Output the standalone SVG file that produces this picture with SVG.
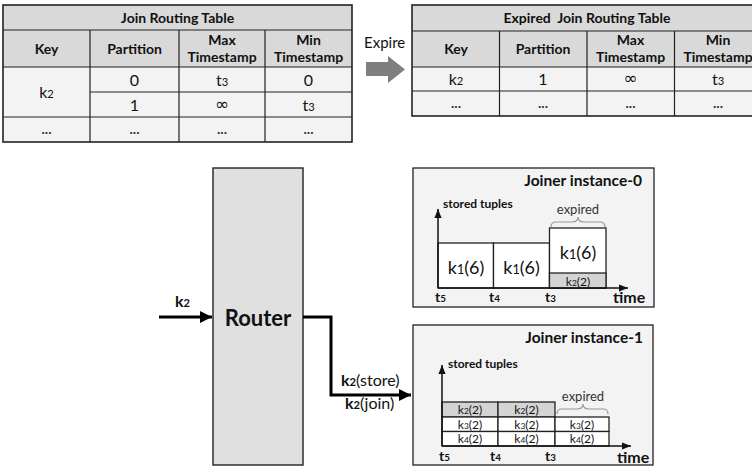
<svg xmlns="http://www.w3.org/2000/svg" width="752" height="467" viewBox="0 0 752 467">
<style>
text{font-family:Lato,"Liberation Sans",sans-serif;fill:#111}
.hd{font-weight:bold;font-size:14px;text-anchor:middle}
.cell{font-size:16px;text-anchor:middle}
.inf{font-family:"DejaVu Sans",sans-serif;font-size:17px;text-anchor:middle}
.dots{font-size:14px;font-weight:bold;text-anchor:middle;fill:#333}
.grid{stroke:#222;stroke-width:1.2;fill:none}
.outer{stroke:#222;stroke-width:1.6;fill:none}
.frame{fill:#f3f3f3;stroke:#222;stroke-width:1.3}
.bx{fill:#fff;stroke:#222;stroke-width:1.3}
.gb{fill:#d4d4d4;stroke:#222;stroke-width:1.3}
.ax{stroke:#111;stroke-width:1.5;fill:none}
.thick{stroke:#000;stroke-width:3;fill:none}
.brk{stroke:#999;stroke-width:1.2;fill:none}
.ttl{font-weight:bold;font-size:15.5px;text-anchor:end}
.st{font-weight:bold;font-size:12px}
.tl{font-weight:bold;font-size:14px}
.time{font-weight:bold;font-size:16px}
.k16{font-size:18px;text-anchor:middle}
.k13{font-size:13px;text-anchor:middle}
.k12{font-size:12px;text-anchor:middle}
.exp{font-size:13px;text-anchor:middle;fill:#333}
.sub{font-size:70%}
</style>
<defs>
<marker id="ah" viewBox="0 0 10 10" refX="10" refY="5" markerWidth="6" markerHeight="4" markerUnits="strokeWidth" orient="auto"><path d="M0,0L10,5L0,10z" fill="#000"/></marker>
<marker id="ax" viewBox="0 0 10 10" refX="10" refY="5" markerWidth="6" markerHeight="6" markerUnits="strokeWidth" orient="auto"><path d="M0,1L10,5L0,9z" fill="#111"/></marker>
</defs>

<g id="join-routing-table">
<rect x="3" y="5" width="349" height="25" fill="#d9d9d9"/>
<rect x="3" y="30" width="349" height="37" fill="#d9d9d9"/>
<rect x="3" y="67" width="349" height="75" fill="#f3f3f3"/>
<path class="grid" d="M3,30H352M3,67H352M90,92H352M3,117H352M90,30V142M179,30V142M265,30V142"/>
<rect class="outer" x="3" y="5" width="349" height="137"/>
<text class="hd" x="177.5" y="23">Join Routing Table</text>
<text class="hd" x="46.5" y="54">Key</text>
<text class="hd" x="134.5" y="54">Partition</text>
<text class="hd" x="222" y="45">Max</text>
<text class="hd" x="222" y="62">Timestamp</text>
<text class="hd" x="308.5" y="45">Min</text>
<text class="hd" x="308.5" y="62">Timestamp</text>
<text class="cell" x="46.5" y="98">k<tspan class="sub">2</tspan></text>
<text class="cell" x="134.5" y="86">0</text>
<text class="cell" x="222" y="86">t<tspan class="sub">3</tspan></text>
<text class="cell" x="308.5" y="86">0</text>
<text class="cell" x="134.5" y="111">1</text>
<text class="inf" x="222" y="110">∞</text>
<text class="cell" x="308.5" y="111">t<tspan class="sub">3</tspan></text>
<text class="dots" x="46.5" y="134">...</text>
<text class="dots" x="134.5" y="134">...</text>
<text class="dots" x="222" y="134">...</text>
<text class="dots" x="308.5" y="134">...</text>
</g>

<g id="expire-arrow">
<path d="M366,62H388V56L405,69.5L388,83V76H366z" fill="#7f7f7f"/>
<text x="364" y="48" style="font-size:15px">Expire</text>
</g>

<g id="expired-join-routing-table">
<rect x="412" y="5" width="350" height="26" fill="#d9d9d9"/>
<rect x="412" y="31" width="350" height="36" fill="#d9d9d9"/>
<rect x="412" y="67" width="350" height="49" fill="#f3f3f3"/>
<path class="grid" d="M412,31H762M412,67H762M412,91H762M499.5,31V116M587,31V116M674.5,31V116"/>
<rect class="outer" x="412" y="5" width="350" height="111"/>
<text class="hd" x="587" y="23" xml:space="preserve">Expired  Join Routing Table</text>
<text class="hd" x="456" y="54">Key</text>
<text class="hd" x="543" y="54">Partition</text>
<text class="hd" x="630.5" y="45">Max</text>
<text class="hd" x="630.5" y="62">Timestamp</text>
<text class="hd" x="718" y="45">Min</text>
<text class="hd" x="718" y="62">Timestamp</text>
<text class="cell" x="456" y="85">k<tspan class="sub">2</tspan></text>
<text class="cell" x="543" y="85">1</text>
<text class="inf" x="630.5" y="84">∞</text>
<text class="cell" x="718" y="85">t<tspan class="sub">3</tspan></text>
<text class="dots" x="456" y="108">...</text>
<text class="dots" x="543" y="108">...</text>
<text class="dots" x="630.5" y="108">...</text>
<text class="dots" x="718" y="108">...</text>
</g>

<g id="router">
<rect x="213" y="168" width="90" height="297" fill="#e0e0e0" stroke="#222" stroke-width="1.4"/>
<text x="258" y="326" style="font-weight:bold;font-size:22px;text-anchor:middle">Router</text>
</g>

<g id="joiner-0">
<rect class="frame" x="413" y="168" width="241" height="139"/>
<text class="ttl" x="642" y="186">Joiner instance-0</text>
<text class="st" x="443" y="208">stored tuples</text>
<rect class="bx" x="438" y="243" width="55.5" height="45"/>
<rect class="bx" x="493.5" y="243" width="56" height="45"/>
<rect class="bx" x="549.5" y="228" width="56.5" height="60"/>
<rect class="gb" x="549.5" y="273" width="56.5" height="15"/>
<text class="k16" x="466" y="274">k<tspan class="sub">1</tspan>(6)</text>
<text class="k16" x="521.5" y="274">k<tspan class="sub">1</tspan>(6)</text>
<text class="k16" x="578" y="259">k<tspan class="sub">1</tspan>(6)</text>
<text class="k12" x="578" y="285.5">k<tspan class="sub">2</tspan>(2)</text>
<path class="brk" d="M551,227Q551,222 556,222H572Q578,222 578,217Q578,222 584,222H600Q605,222 605,227"/>
<text class="exp" x="578" y="214">expired</text>
<path class="ax" d="M438,288V209" marker-end="url(#ax)"/>
<path class="ax" d="M438,288H628" marker-end="url(#ax)"/>
<text class="tl" x="435" y="302">t<tspan class="sub">5</tspan></text>
<text class="tl" x="489" y="302">t<tspan class="sub">4</tspan></text>
<text class="tl" x="545" y="302">t<tspan class="sub">3</tspan></text>
<text class="time" x="613" y="303">time</text>
</g>

<g id="joiner-1">
<rect class="frame" x="413" y="325" width="240" height="140"/>
<text class="ttl" x="643" y="343">Joiner instance-1</text>
<text class="st" x="448" y="368">stored tuples</text>
<rect class="gb" x="442" y="402" width="56" height="15"/>
<rect class="gb" x="498" y="402" width="57" height="15"/>
<rect class="bx" x="442" y="417" width="56" height="14.5"/>
<rect class="bx" x="498" y="417" width="57" height="14.5"/>
<rect class="bx" x="555" y="417" width="54" height="14.5"/>
<rect class="bx" x="442" y="431.5" width="56" height="14.5"/>
<rect class="bx" x="498" y="431.5" width="57" height="14.5"/>
<rect class="bx" x="555" y="431.5" width="54" height="14.5"/>
<text class="k12" x="470" y="414">k<tspan class="sub">2</tspan>(2)</text>
<text class="k12" x="526.5" y="414">k<tspan class="sub">2</tspan>(2)</text>
<text class="k12" x="470" y="428.5">k<tspan class="sub">3</tspan>(2)</text>
<text class="k12" x="526.5" y="428.5">k<tspan class="sub">3</tspan>(2)</text>
<text class="k12" x="582" y="428.5">k<tspan class="sub">3</tspan>(2)</text>
<text class="k12" x="470" y="443">k<tspan class="sub">4</tspan>(2)</text>
<text class="k12" x="526.5" y="443">k<tspan class="sub">4</tspan>(2)</text>
<text class="k12" x="582" y="443">k<tspan class="sub">4</tspan>(2)</text>
<path class="brk" d="M557,414Q557,409 562,409H577Q583,409 583,404Q583,409 589,409H603Q608,409 608,414"/>
<text class="exp" x="583" y="401">expired</text>
<path class="ax" d="M442,446V365" marker-end="url(#ax)"/>
<path class="ax" d="M442,446H631" marker-end="url(#ax)"/>
<text class="tl" x="439" y="461">t<tspan class="sub">5</tspan></text>
<text class="tl" x="490" y="461">t<tspan class="sub">4</tspan></text>
<text class="tl" x="545" y="461">t<tspan class="sub">3</tspan></text>
<text class="time" x="617" y="463">time</text>
</g>

<g id="connectors">
<path class="thick" d="M159,317H212" marker-end="url(#ah)"/>
<path class="thick" d="M303,317H331V395H411" marker-end="url(#ah)"/>
<text x="175" y="307" style="font-weight:bold;font-size:16px">k<tspan class="sub">2</tspan></text>
<text x="341" y="386" style="font-size:16px"><tspan font-weight="bold">k<tspan class="sub">2</tspan></tspan>(store)</text>
<text x="345" y="409" style="font-size:16px"><tspan font-weight="bold">k<tspan class="sub">2</tspan></tspan>(join)</text>
</g>
</svg>
